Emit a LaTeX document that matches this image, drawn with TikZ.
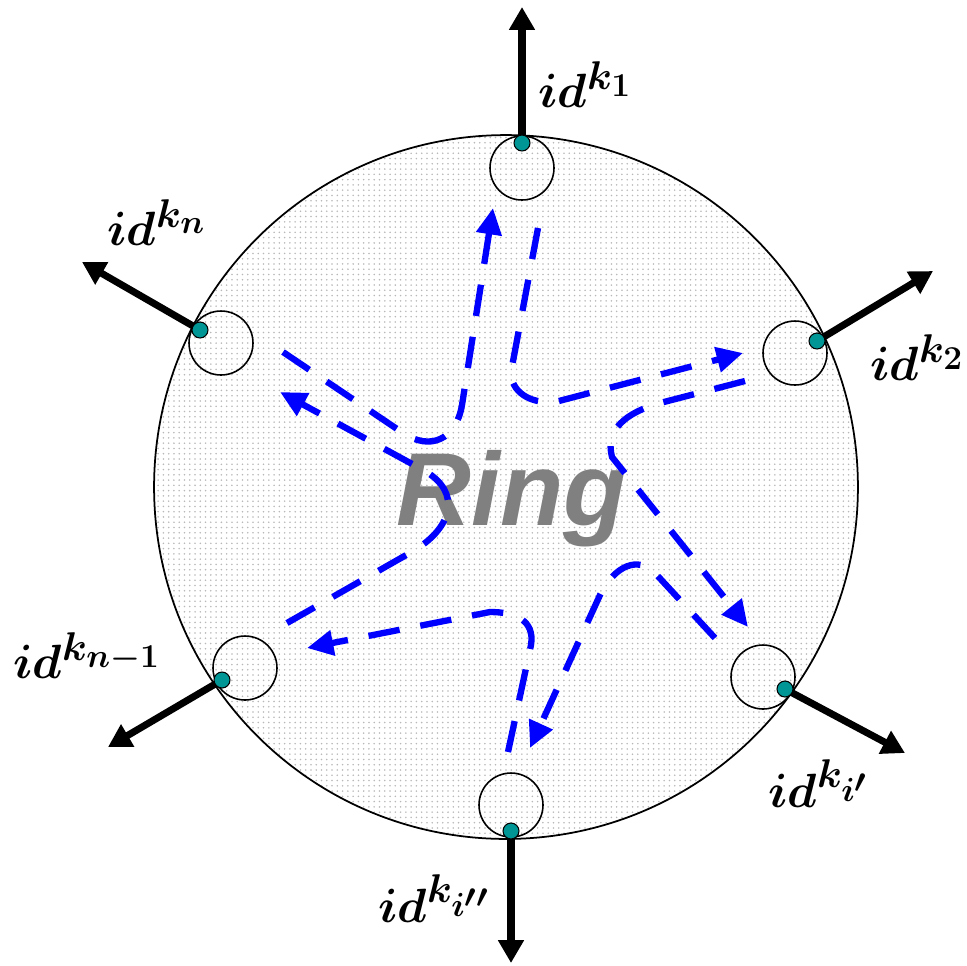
\documentclass[tikz,border=0pt]{standalone}
\usepackage{amsmath}
\usepackage{fontspec}
\usepackage{tikz}
\usetikzlibrary{arrows.meta, patterns}

\newfontfamily\ringfont{Liberation Sans}
\definecolor{peerteal}{RGB}{0,150,150}
\renewcommand\defaultscriptratio{.85}
\renewcommand\defaultscriptscriptratio{.7}

\begin{document}
\begin{tikzpicture}[
    x=0.02cm, y=-0.02cm,
    ring/.style={draw, circle, line width=1pt, pattern=dots, pattern color=black!28, minimum size=14.08cm, inner sep=0pt},
    slot/.style={draw, circle, line width=0.9pt, minimum size=1.28cm, inner sep=0pt},
    peer/.style={draw, circle, fill=peerteal, line width=0.6pt, minimum size=0.32cm, inner sep=0pt},
    spoke/.style={-{Triangle[length=13pt, width=14pt]}, line width=4pt},
    hop/.style={blue, line width=3.6pt, dash pattern=on 18pt off 12pt, -{Triangle[length=15pt, width=14pt]}},
    lbl/.style={anchor=base west, inner sep=0pt, scale=1.1, transform shape, font=\fontsize{24.88}{29}\selectfont\boldmath},
]
\useasboundingbox (0,0) rectangle (967,965);

% === RING ===
\node[ring] (ring) at (506,487) {};
\node[anchor=base, text=black!50, font=\fontsize{59}{60}\selectfont\ringfont\bfseries\itshape] (title) at (512,525) {Ring};

% slots on the ring
\node[slot] (s1) at (522,168) {};
\node[slot] (s2) at (795,353) {};
\node[slot] (si1) at (763,677) {};
\node[slot] (si2) at (511,805) {};
\node[slot] (sn1) at (245,668) {};
\node[slot] (sn) at (221,343) {};

% === HOPS ===
\coordinate (go_n) at (283,352);  \coordinate (in_1) at (493,208);
\coordinate (go_1) at (538,228);  \coordinate (in_2) at (743,353);
\coordinate (go_2) at (745,381);  \coordinate (in_i1) at (748,627);
\coordinate (go_i1) at (715,638); \coordinate (in_i2) at (530,748);
\coordinate (go_i2) at (508,752); \coordinate (in_n1) at (307,648);
\coordinate (go_n1) at (287,623); \coordinate (in_n) at (280,392);

\draw[hop] (go_n) -- (403,433) .. controls (430,451) and (456,440) .. (462,405) -- (in_1);
\draw[hop] (go_1) -- (511,372) .. controls (511,392) and (530,404) .. (555,402) -- (in_2);
\draw[hop] (go_2) -- (660,403) .. controls (625,413) and (605,430) .. (612,457) -- (in_i1);
\draw[hop] (go_i1) -- (655,573) .. controls (638,556) and (615,565) .. (600,595) -- (in_i2);
\draw[hop] (go_i2) -- (531,645) .. controls (535,620) and (515,612) .. (490,612) -- (in_n1);
\draw[hop] (go_n1) -- (415,550) .. controls (452,527) and (462,493) .. (425,471) -- (in_n);

% === IDS ===
\coordinate (c1) at (522,143);  \coordinate (a1) at (522,7);
\coordinate (c2) at (817,341);  \coordinate (a2) at (933,271);
\coordinate (ci1) at (785,689); \coordinate (ai1) at (905,753);
\coordinate (ci2) at (511,831); \coordinate (ai2) at (511,963);
\coordinate (cn1) at (222,680); \coordinate (an1) at (108,747);
\coordinate (cn) at (200,330);  \coordinate (an) at (82,262);

\foreach \k in {1,2,i1,i2,n1,n} {
  \draw[spoke] (c\k) -- (a\k);
  \node[peer] (p\k) at (c\k) {};
}

\node[lbl] (l1) at (538,107) {$id^{k_1}$};
\node[lbl] (l2) at (870,380) {$id^{k_2}$};
\node[lbl] (li1) at (768,807) {$id^{k_{i'}}$};
\node[lbl] (li2) at (378,922) {$id^{k_{i''}}$};
\node[lbl] (ln1) at (13,678) {$id^{k_{n-1}}$};
\node[lbl] (ln) at (107,245) {$id^{k_n}$};

\end{tikzpicture}
\end{document}
